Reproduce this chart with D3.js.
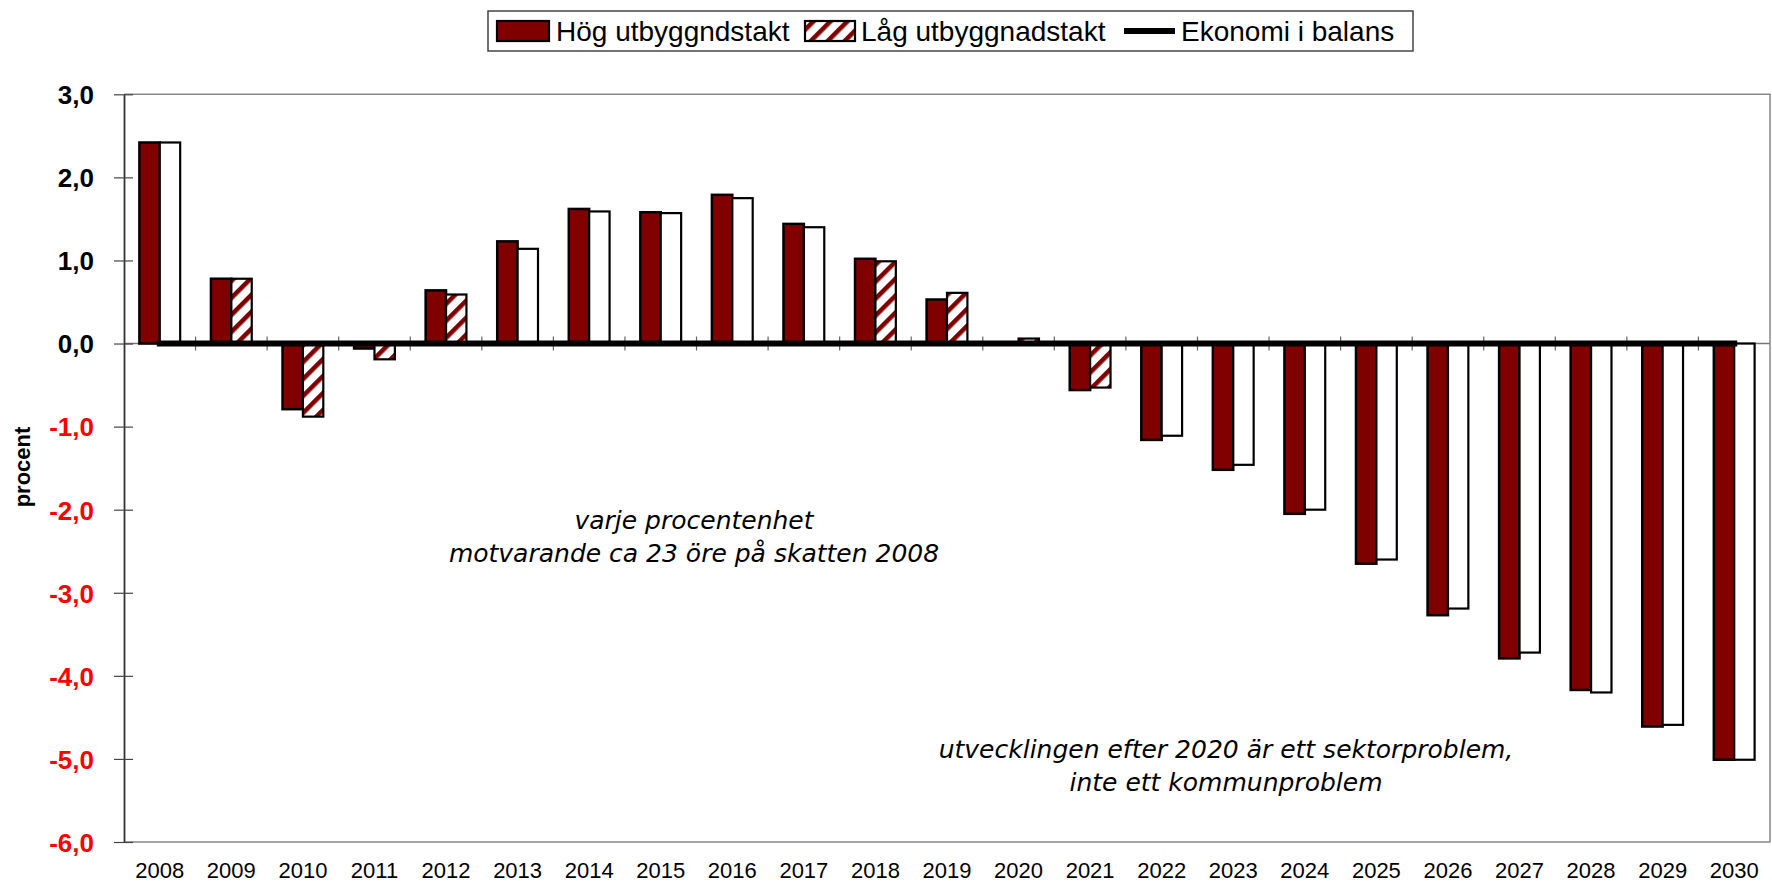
<!DOCTYPE html>
<html>
<head>
<meta charset="utf-8">
<script src="https://cdn.jsdelivr.net/npm/d3@7"></script>
<style>
  html, body { margin: 0; padding: 0; background: #fff; }
  svg { display: block; }
</style>
</head>
<body>
<svg id="chart" width="1772" height="887"></svg>
<script>
// ---------- data ----------
const years = ["2008","2009","2010","2011","2012","2013","2014","2015","2016","2017","2018","2019",
               "2020","2021","2022","2023","2024","2025","2026","2027","2028","2029","2030"];
const hogValues = [2.42, 0.78, -0.79, -0.06, 0.64, 1.23, 1.62, 1.58, 1.79, 1.44, 1.02, 0.53,
                   0.00, -0.56, -1.16, -1.52, -2.05, -2.65, -3.27, -3.79, -4.17, -4.61, -5.01];
const lagValues = [2.42, 0.78, -0.88, -0.19, 0.59, 1.14, 1.59, 1.57, 1.75, 1.40, 0.99, 0.61,
                   0.06, -0.53, -1.11, -1.46, -2.00, -2.60, -3.19, -3.72, -4.20, -4.59, -5.01];
const balansValues = [0,0,0,0,0,0,0,0,0,0,0,0,0,0,0,0,0,0,0,0,0,0,0];
const yTicks = [3, 2, 1, 0, -1, -2, -3, -4, -5, -6];
const seriesNames = ["Hög utbyggndstakt", "Låg utbyggnadstakt", "Ekonomi i balans"];
const yTitle = "procent";
const note1 = ["varje procentenhet", "motvarande ca 23 öre på skatten 2008"];
const note2 = ["utvecklingen efter 2020 är ett sektorproblem,", "inte ett kommunproblem"];

// ---------- layout ----------
const MAROON = "#800000";
const svg = d3.select("#chart");
const plot = { left: 124, right: 1770, top: 94.3, bottom: 842 };

const x = d3.scaleBand().domain(years).range([plot.left, plot.right])
  .paddingInner(0.43).paddingOuter(0.215);
const xs = d3.scaleBand().domain(["hog", "lag"]).range([0, x.bandwidth()]).padding(0);
const y = d3.scaleLinear().domain([-6, 3]).range([plot.bottom, plot.top]);
const step = x.step();

// hatch pattern
const defs = svg.append("defs");
const pat = defs.append("pattern").attr("id", "hatch")
  .attr("patternUnits", "userSpaceOnUse").attr("width", 12).attr("height", 12)
  .attr("patternTransform", "rotate(45)");
pat.append("rect").attr("width", 12).attr("height", 12).attr("fill", "#fff");
pat.append("rect").attr("x", 0).attr("width", 4.6).attr("height", 12).attr("fill", MAROON);

// plot frame (gray top/right/bottom)
svg.append("path")
  .attr("d", `M${plot.left},${plot.top}H${plot.right}V${plot.bottom}H${plot.left}`)
  .attr("fill", "none").attr("stroke", "#888").attr("stroke-width", 1.5);

// thin zero axis
svg.append("line").attr("x1", plot.left).attr("x2", plot.right)
  .attr("y1", y(0)).attr("y2", y(0)).attr("stroke", "#777").attr("stroke-width", 1.5);

// x category ticks (cross)
const bounds = years.slice(1).map(d => x(d) - step * 0.215);
svg.append("g").selectAll("line").data(bounds).join("line")
  .attr("x1", d => d).attr("x2", d => d)
  .attr("y1", y(0) - 7).attr("y2", y(0) + 7)
  .attr("stroke", "#666").attr("stroke-width", 1.2);

// y axis
const yAxis = d3.axisLeft(y).tickValues(yTicks).tickSize(0)
  .tickFormat(d => d3.format(".1f")(d).replace(".", ",").replace("\u2212", "-"));
const gy = svg.append("g").attr("transform", `translate(${plot.left},0)`).call(yAxis);
gy.select(".domain").attr("stroke", "#333").attr("stroke-width", 1.8);
gy.selectAll(".tick line").remove();
gy.selectAll(".tick").append("line").attr("x1", -10).attr("x2", 9)
  .attr("stroke", "#444").attr("stroke-width", 1.2);
gy.selectAll(".tick text")
  .attr("x", -30).attr("dy", "0.36em")
  .style("font-family", "'Liberation Sans', Arial, sans-serif")
  .style("font-size", "26px").style("font-weight", "bold")
  .attr("fill", d => d < 0 ? "#ff0000" : "#000");

// bars
const rows = years.map((yr, i) => ({ yr, hog: hogValues[i], lag: lagValues[i], bal: balansValues[i] }));
const gb = svg.append("g");
rows.forEach(r => {
  gb.append("rect")
    .attr("x", x(r.yr) + xs("hog")).attr("width", xs.bandwidth())
    .attr("y", y(Math.max(0, r.hog))).attr("height", Math.abs(y(r.hog) - y(0)))
    .attr("fill", MAROON).attr("stroke", "#000").attr("stroke-width", 2.5);
  gb.append("rect")
    .attr("x", x(r.yr) + xs("lag")).attr("width", xs.bandwidth())
    .attr("y", y(Math.max(0, r.lag))).attr("height", Math.abs(y(r.lag) - y(0)))
    .attr("fill", Math.abs(r.lag) < 1.05 ? "url(#hatch)" : "#fff")
    .attr("stroke", "#000").attr("stroke-width", 2.2);
});

// balance line
const line = d3.line().x(d => x(d.yr) + x.bandwidth() / 2).y(d => y(d.bal));
svg.append("path").datum(rows).attr("d", line)
  .attr("fill", "none").attr("stroke", "#000").attr("stroke-width", 6)
  .attr("stroke-linecap", "square");

// x labels
svg.append("g").selectAll("text").data(years).join("text")
  .attr("x", d => x(d) + x.bandwidth() / 2).attr("y", 878)
  .attr("text-anchor", "middle")
  .style("font-family", "'Liberation Sans', Arial, sans-serif").style("font-size", "22px")
  .text(d => d);

// y title
svg.append("text").attr("transform", "translate(30,467) rotate(-90)")
  .attr("text-anchor", "middle")
  .style("font-family", "'Liberation Sans', Arial, sans-serif")
  .style("font-size", "22px").style("font-weight", "bold").text(yTitle);

// annotations
const noteFont = "'DejaVu Sans', Verdana, sans-serif";
[[note1, 694, 529], [note2, 1226, 758]].forEach(([lines, cx, by]) => {
  lines.forEach((t, i) => {
    svg.append("text").attr("x", cx).attr("y", by + i * 33).attr("text-anchor", "middle")
      .style("font-family", noteFont).style("font-style", "italic").style("font-size", "25px")
      .text(t);
  });
});

// legend
const lg = svg.append("g");
lg.append("rect").attr("x", 488).attr("y", 11).attr("width", 925).attr("height", 40)
  .attr("fill", "#fff").attr("stroke", "#444").attr("stroke-width", 1.5);
const legFont = "'Liberation Sans', Arial, sans-serif";
lg.append("rect").attr("x", 497).attr("y", 21).attr("width", 52).attr("height", 20)
  .attr("fill", MAROON).attr("stroke", "#000").attr("stroke-width", 2.2);
lg.append("text").attr("x", 556).attr("y", 41).style("font-family", legFont).style("font-size", "28px")
  .text(seriesNames[0]);
lg.append("rect").attr("x", 805).attr("y", 21).attr("width", 50).attr("height", 20)
  .attr("fill", "url(#hatch)").attr("stroke", "#000").attr("stroke-width", 2.2);
lg.append("text").attr("x", 861).attr("y", 41).style("font-family", legFont).style("font-size", "28px")
  .text(seriesNames[1]);
lg.append("line").attr("x1", 1124).attr("x2", 1175).attr("y1", 31).attr("y2", 31)
  .attr("stroke", "#000").attr("stroke-width", 6);
lg.append("text").attr("x", 1181).attr("y", 41).style("font-family", legFont).style("font-size", "28px")
  .text(seriesNames[2]);
</script>
</body>
</html>
